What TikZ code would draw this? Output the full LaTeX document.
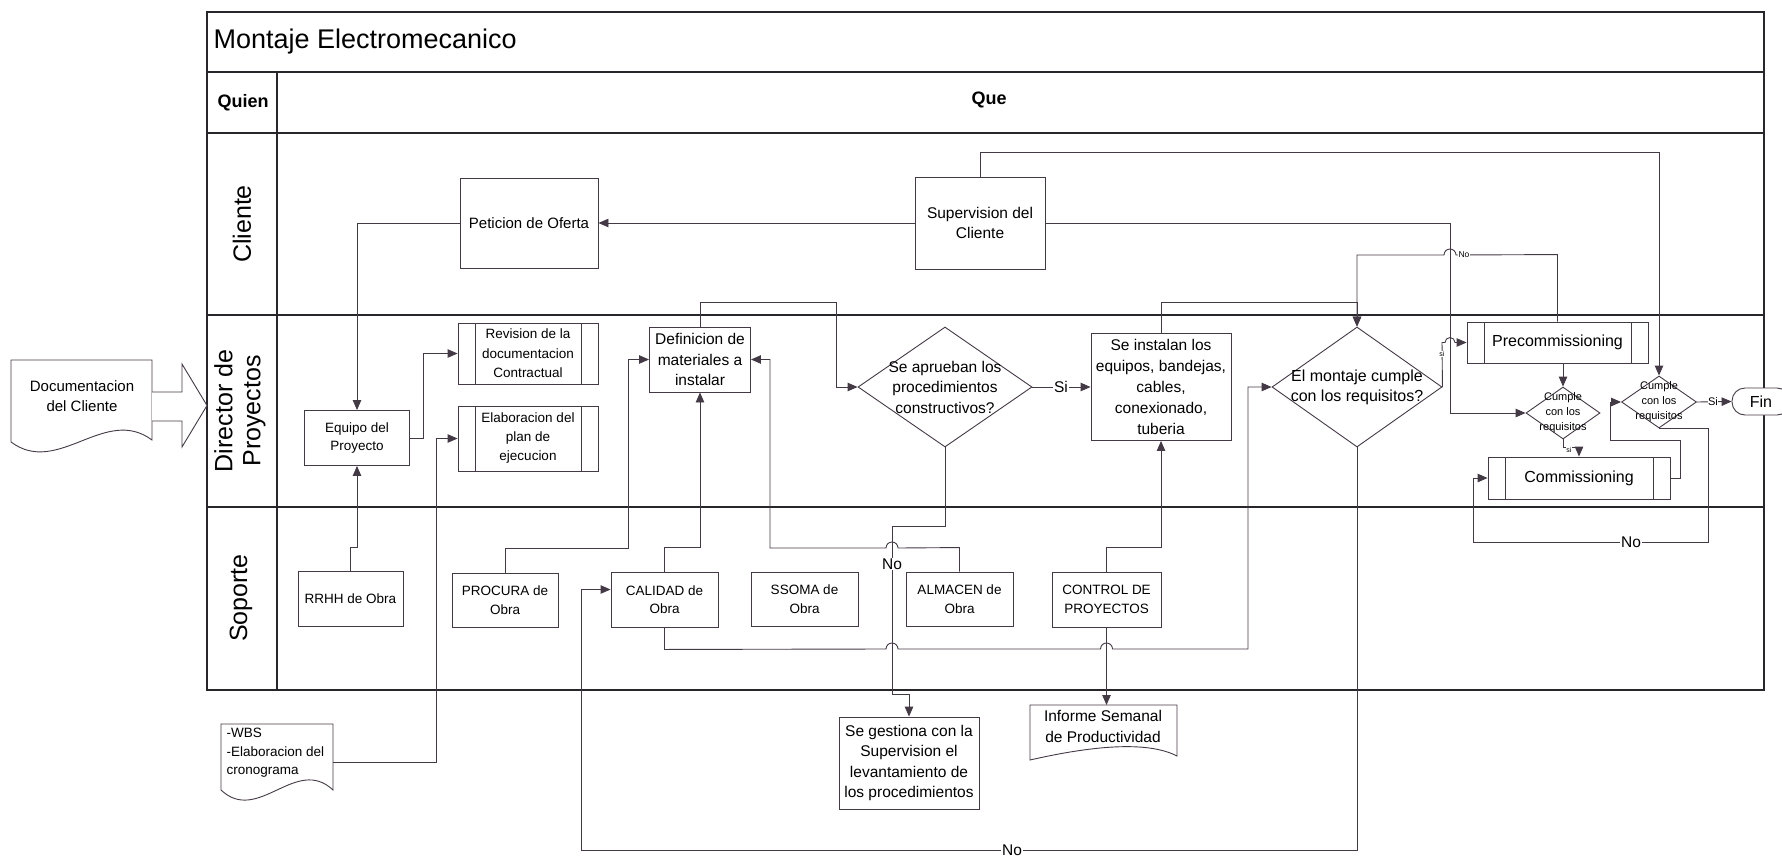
\documentclass[tikz,border=0pt]{standalone}
\usepackage{fontspec}
\setmainfont{Liberation Sans}
\usetikzlibrary{shapes.geometric,arrows.meta,calc}
\newcommand{\sizeset}[2]{\fontsize{#1}{#2}\selectfont}
\definecolor{linec}{RGB}{68,58,70}
\definecolor{framec}{RGB}{40,38,42}

\begin{document}
\begin{tikzpicture}[x=1pt,y=-1pt,
  line/.style={draw=linec, line width=0.9pt},
  flow/.style={line, -{Triangle[length=10pt,width=8.5pt]}},
  framel/.style={draw=framec, line width=1.2pt},
  box/.style={draw=linec, line width=0.9pt, fill=white, rectangle, inner sep=0pt, align=center},
  procbox/.style={box, path picture={
      \draw[linec, line width=0.9pt]
        ([xshift=17pt]path picture bounding box.north west) -- ([xshift=17pt]path picture bounding box.south west)
        ([xshift=-17pt]path picture bounding box.north east) -- ([xshift=-17pt]path picture bounding box.south east);}},
  dia/.style={draw=linec, line width=0.9pt, fill=white, diamond, inner sep=0pt},
  t7/.style={font=\sizeset{7}{8}},
  t8/.style={font=\sizeset{8.5}{10}},
  t11/.style={font=\sizeset{11}{15}},
  t135/.style={font=\sizeset{13.5}{18.5}},
  t15/.style={font=\sizeset{15}{20.5}},
  t155/.style={font=\sizeset{15.5}{20.5}},
  t16/.style={font=\sizeset{16}{20}},
  t25/.style={font=\sizeset{25}{28}},
  lbl/.style={fill=white, inner sep=1pt},
]
\useasboundingbox (0,0) rectangle (1782,859);
\fill[white] (0,0) rectangle (1782,859);

% ---------- swimlane frame ----------
\draw[framel, line width=1.6pt] (207,12) rectangle (1764,690);
\draw[framel] (207,72) -- (1764,72);
\draw[framel] (207,133) -- (1764,133);
\draw[framel] (277,72) -- (277,690);
\draw[framel] (207,315) -- (1764,315);
\draw[framel] (207,507) -- (1764,507);

\node[anchor=west, font=\sizeset{27}{32}] (title) at (210,42) {Montaje Electromecanico};
\node[font=\bfseries\sizeset{18}{22}] (quien) at (243,103) {Quien};
\node[font=\bfseries\sizeset{18}{22}] (que) at (989,100) {Que};

\node[rotate=90, t25] (laneCliente) at (242,224) {Cliente};
\node[rotate=90, t25, align=center] (laneDirector) at (240,411) {Director de\\Proyectos};
\node[rotate=90, t25] (laneSoporte) at (241,598) {Soporte};

% ---------- input document and block arrow ----------
\draw[line, fill=white] (11,360) -- (152,360) -- (152,440)
  .. controls (105,405) and (58,477) .. (11,442) -- cycle;
\node[t15, align=center] (docCli) at (82,396) {Documentacion\\del Cliente};
\draw[line, fill=white] (152,392) -- (182,392) -- (182,364) -- (207,405.5)
  -- (182,447) -- (182,421) -- (152,421);

% ---------- Cliente lane ----------
\node[box, t15, minimum width=138pt, minimum height=90pt] (peticion) at (529,223) {Peticion de Oferta};
\node[box, t155, minimum width=130pt, minimum height=92pt] (superv) at (980,223) {Supervision del\\Cliente};

% ---------- Director de Proyectos lane ----------
\node[box, t135, minimum width=105pt, minimum height=55pt] (equipo) at (357,438) {Equipo del\\Proyecto};
\node[procbox, font=\sizeset{13.5}{19.5}, minimum width=140pt, minimum height=61pt] (revision) at (528,353.5) {Revision de la\\documentacion\\Contractual};
\node[procbox, font=\sizeset{13.5}{19}, minimum width=140pt, minimum height=65pt] (elab) at (528,438.5) {Elaboracion del\\plan de\\ejecucion};
\node[box, t155, minimum width=101pt, minimum height=65pt] (defin) at (700,359.5) {Definicion de\\materiales a\\instalar};

\node[dia, minimum width=174pt, minimum height=120pt] (aprueba) at (945,387) {};
\node[t155, align=center] (apruebaT) at (aprueba.center) {Se aprueban los\\procedimientos\\constructivos?};

\node[box, font=\sizeset{15.5}{21}, minimum width=140pt, minimum height=107pt] (instal) at (1161,387) {Se instalan los\\equipos, bandejas,\\cables,\\conexionado,\\tuberia};

\node[dia, minimum width=170pt, minimum height=120pt] (montaje) at (1357,387) {};
\node[t16, align=center] (montajeT) at (montaje.center) {El montaje cumple\\con los requisitos?};

\node[procbox, t16, minimum width=181pt, minimum height=41pt] (precom) at (1557.5,342.5) {Precommissioning};
\node[dia, minimum width=74pt, minimum height=52pt] (cumple1) at (1563,413) {};
\node[t11, align=center] (cumple1T) at (cumple1.center) {Cumple\\con los\\requisitos};
\node[procbox, t16, minimum width=182pt, minimum height=42pt] (commis) at (1579,478) {Commissioning};
\node[dia, minimum width=75pt, minimum height=52pt] (cumple2) at (1659,402) {};
\node[t11, align=center] (cumple2T) at (cumple2.center) {Cumple\\con los\\requisitos};
\node[box, t16, rounded corners=13pt, minimum width=58pt, minimum height=27pt] (fin) at (1761,401.5) {Fin};

% ---------- Soporte lane ----------
\node[box, t135, minimum width=105pt, minimum height=55pt] (rrhh) at (350.5,598.5) {RRHH de Obra};
\node[box, t135, minimum width=106pt, minimum height=54pt] (procura) at (505,600) {PROCURA de\\Obra};
\node[box, t135, minimum width=107pt, minimum height=55pt] (calidad) at (664.5,599.5) {CALIDAD de\\Obra};
\node[box, t135, minimum width=107pt, minimum height=54pt] (ssoma) at (804.5,599) {SSOMA de\\Obra};
\node[box, t135, minimum width=107pt, minimum height=54pt] (almacen) at (959.5,599) {ALMACEN de\\Obra};
\node[box, t135, minimum width=109pt, minimum height=55pt] (control) at (1106.5,599.5) {CONTROL DE\\PROYECTOS};

% ---------- outputs below the frame ----------
\draw[line, fill=white] (221,724) -- (333,724) -- (333,790)
  .. controls (296,755) and (258,825) .. (221,790) -- cycle;
\node[t135, align=left, anchor=west] (wbs) at (223,753) {-WBS\\-Elaboracion del\\cronograma};
\coordinate (wbsR) at (333,762);

\node[box, t155, minimum width=140pt, minimum height=92pt] (gestiona) at (909,763) {Se gestiona con la\\Supervision el\\levantamiento de\\los procedimientos};

\draw[line, fill=white] (1030,705) -- (1177,705) -- (1177,756)
  .. controls (1150,742) and (1100,744) .. (1030,760) -- cycle;
\node[font=\sizeset{15.5}{21}, align=center] (informe) at (1103,726) {Informe Semanal\\de Productividad};
\coordinate (infTop) at (1106.5,705);

% ---------- connectors ----------
\draw[flow] (superv.west) -- (peticion.east);
\draw[flow] (peticion.west) -| (equipo.north);
\draw[flow] (rrhh.north) -- ++(0,-23) -| (equipo.south);
\draw[flow] (equipo.east) -- ++(13,0) |- (revision.west);
\draw[flow] (wbsR) -| ($(elab.west)+(-21,0)$) -- (elab.west);

\draw[flow] (procura.north) -- ++(0,-24) -| ($(defin.west)+(-21,0)$) -- (defin.west);
\draw[flow] (calidad.north) -- ++(0,-24) -| (defin.south);
\draw[flow] (almacen.north) -- ++(0,-24) -- (898,548)
  arc[start angle=0, end angle=180, radius=6pt] -- (770,548) |- (defin.east);
\draw[flow] (defin.north) -- ++(0,-24.5) -| ($(aprueba.west)+(-21,0)$) -- (aprueba.west);

\draw[flow] (aprueba.east) -- (instal.west);
\draw[flow] (aprueba.south) -- ++(0,79) -| (892,694) -| (gestiona.north);

\draw[flow] (calidad.south) -- ++(0,22) -- (886,649)
  arc[start angle=180, end angle=0, radius=6pt] -- (1100.5,649)
  arc[start angle=180, end angle=0, radius=6pt] -- (1248,649) |- (montaje.west);
\draw[flow] (control.north) -- ++(0,-24) -| (instal.south);
\draw[flow] (control.south) -- (infTop);

\draw[flow] (instal.north) -- ++(0,-31) -| (montaje.north);
\draw[flow] (precom.north) -- ++(0,-67) -- (1456,255)
  arc[start angle=0, end angle=180, radius=6pt] -| (montaje.north);
\draw[flow] (superv.north) -- ++(0,-24) -| (cumple2.north);
\draw[flow] (superv.east) -| (1450,413) -- (cumple1.west);

\draw[flow] (montaje.east) -- (1442,342.5) -- (1445,342.5)
  arc[start angle=180, end angle=0, radius=5pt] -- (precom.west);
\draw[flow] (precom.south -| cumple1.north) -- (cumple1.north);
\draw[flow] (cumple1.south) -- ++(0,8) -| (commis.north);
\draw[flow] (commis.east) -- ++(10,0) |- (1610,440) |- (cumple2.west);
\draw[flow] (cumple2.east) -- (fin.west);
\draw[flow] (cumple2.south) -| (1708,542) -| ($(commis.west)+(-14,0)$) -- (commis.west);

\draw[flow] (montaje.south) -- (1357,850) -- (581,850) |- ($(calidad.west)+(0,-10)$);

% ---------- connector labels ----------
\node[lbl, t155] (siAprueba) at (1061,387) {Si};
\node[lbl, t155] (noAprueba) at (892,564) {No};
\node[lbl, t155] (noMontaje) at (1012,850) {No};
\node[lbl, t8, inner sep=0.5pt] (noCumple1) at (1464,255) {No};
\node[lbl, t7, inner sep=0.3pt] (siMontaje) at (1442,354) {si};
\node[lbl, t7, inner sep=0.3pt] (siCumple1) at (1569,450) {si};
\node[lbl, t11, inner sep=0.5pt] (siCumple2) at (1713,402) {Si};
\node[lbl, t155] (noCumple2) at (1631,542) {No};

\end{tikzpicture}
\end{document}
